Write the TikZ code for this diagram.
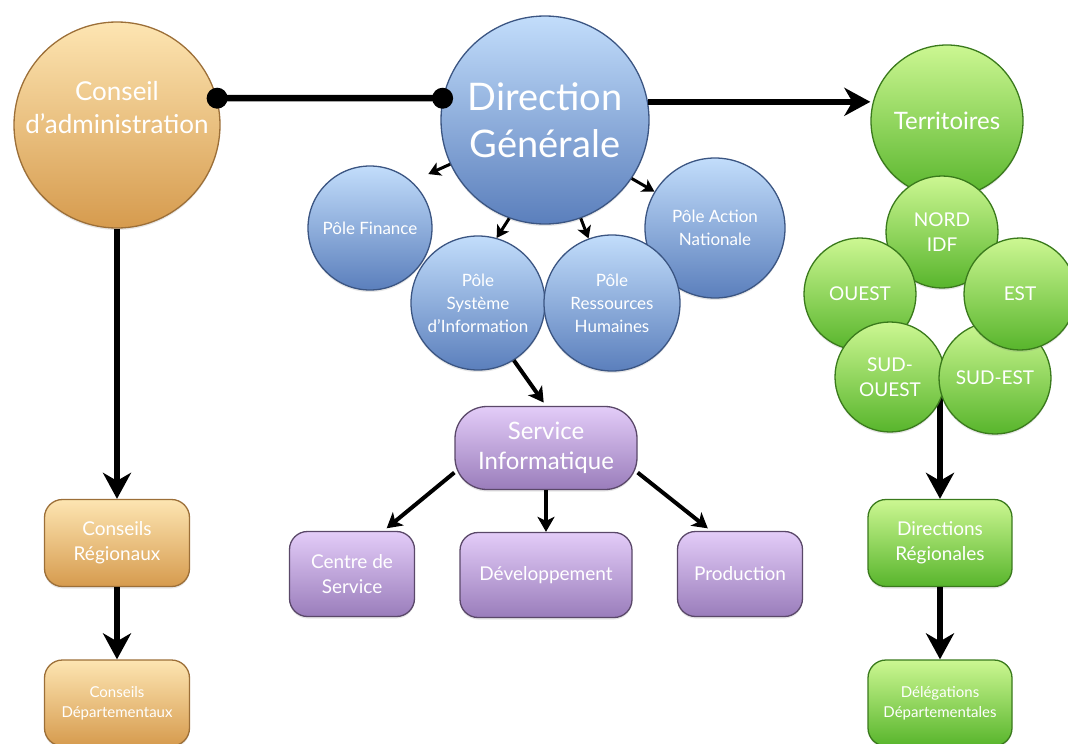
\documentclass[tikz,border=0pt]{standalone}
\usepackage{fontspec}
\setmainfont{Lato}
\usetikzlibrary{arrows.meta,shadows,backgrounds,calc}

\definecolor{orgtop}{HTML}{FDE5B2}
\definecolor{orgbot}{HTML}{D69B4E}
\definecolor{orgline}{HTML}{9C6F38}
\definecolor{blutop}{HTML}{C2DDFB}
\definecolor{blubot}{HTML}{5B7FBC}
\definecolor{bluline}{HTML}{3B5582}
\definecolor{grntop}{HTML}{CCF792}
\definecolor{grnbot}{HTML}{58B52C}
\definecolor{grnline}{HTML}{3A7A1C}
\definecolor{purtop}{HTML}{E3CCF8}
\definecolor{purbot}{HTML}{9A7DBB}
\definecolor{purline}{HTML}{5A4869}

\newcommand{\fs}[2]{\fontsize{#1}{#2}\selectfont}

\begin{document}
\begin{tikzpicture}[x=1pt, y=-1pt,
    bubble/.style={circle, draw, line width=1.3pt, text=white, align=center, inner sep=0pt,
      drop shadow={opacity=0.2, shadow xshift=0pt, shadow yshift=-2pt}},
    panel/.style={rectangle, rounded corners=18pt, draw, line width=1.3pt, text=white, align=center, inner sep=0pt,
      drop shadow={opacity=0.2, shadow xshift=0pt, shadow yshift=-2pt}},
    caption/.style={text=white, align=center, inner sep=0pt},
    orange/.style={top color=orgtop, bottom color=orgbot, draw=orgline},
    blue/.style={top color=blutop, bottom color=blubot, draw=bluline},
    green/.style={top color=grntop, bottom color=grnbot, draw=grnline},
    purple/.style={top color=purtop, bottom color=purbot, draw=purline},
    link/.style={line width=6.5pt},
    bigarrow/.style={line width=6pt, -{Stealth[length=26pt, width=28pt, inset=8pt]}},
    midarrow/.style={line width=4pt, -{Stealth[length=15pt, width=17pt, inset=4pt]}},
    smallarrow/.style={line width=3pt, -{Stealth[length=12pt, width=14pt, inset=3pt]}}
  ]
  \useasboundingbox (0,0) rectangle (1068,744);

  % left: council
  \node (conseil) at (117,125) [bubble, orange, minimum size=206pt] {};
  \node (conseiltxt) at ([yshift=17pt]conseil.center) [caption, font=\fs{26}{33}] {Conseil\\d'administration};
  \node (cr) at (117,543) [panel, orange, minimum width=145pt, minimum height=87pt, font=\fs{19}{25}] {Conseils\\Régionaux};
  \node (cd) at (117,703) [panel, orange, minimum width=145pt, minimum height=86pt, font=\fs{15}{20}] {Conseils\\Départementaux};

  % middle: direction and poles
  \node (fin) at (370,228) [bubble, blue, minimum size=124pt, font=\fs{17}{23}] {Pôle Finance};
  \node (pan) at (715,228) [bubble, blue, minimum size=140pt, font=\fs{17}{23}] {Pôle Action\\Nationale};
  \node (psi) at (478,303) [bubble, blue, minimum size=134pt, font=\fs{17}{23}] {Pôle\\Système\\d'Information};
  \node (prh) at (612,303) [bubble, blue, minimum size=136pt, font=\fs{17}{23}] {Pôle\\Ressources\\Humaines};
  \node (dg) at (545,120) [bubble, blue, minimum size=208pt, font=\fs{38}{47}] {Direction\\Générale};

  \node (si) at (546,448) [panel, purple, rounded corners=32pt, minimum width=182pt, minimum height=83pt, font=\fs{24}{30}] {Service\\Informatique};
  \node (cds) at (352,574) [panel, purple, minimum width=125pt, minimum height=85pt, font=\fs{19}{25}] {Centre de\\Service};
  \node (dev) at (546,575) [panel, purple, minimum width=172pt, minimum height=85pt, font=\fs{19}{25}] {Développement};
  \node (prod) at (740,574) [panel, purple, minimum width=125pt, minimum height=85pt, font=\fs{19}{25}] {Production};

  % right: territories
  \node (terr) at (947,121) [bubble, green, minimum size=152pt, font=\fs{24}{30}] {Territoires};
  \node (nord) at (942,232) [bubble, green, minimum size=112pt, font=\fs{19}{25}] {NORD\\IDF};
  \node (ouest) at (860,294) [bubble, green, minimum size=112pt, font=\fs{19}{25}] {OUEST};
  \node (sudouest) at (890,377) [bubble, green, minimum size=110pt, font=\fs{19}{25}] {SUD-\\OUEST};
  \node (sudest) at (995,378) [bubble, green, minimum size=112pt, font=\fs{19}{25}] {SUD-EST};
  \node (est) at (1020,294) [bubble, green, minimum size=112pt, font=\fs{19}{25}] {EST};
  \node (dr) at (940,543) [panel, green, minimum width=144pt, minimum height=87pt, font=\fs{19}{25}] {Directions\\Régionales};
  \node (dd) at (940,703) [panel, green, minimum width=144pt, minimum height=86pt, font=\fs{15}{20}] {Délégations\\Départementales};
  \coordinate (sudjoin) at (940,395);

  % connectors
  \draw [link] (conseil.15) -- (dg.168);
  \fill (conseil.15) circle (10.5pt);
  \fill (dg.168) circle (10.5pt);
  \draw [bigarrow] (dg.10) -- (dg.10 -| terr.west);

  \draw [bigarrow] (conseil) -- (cr);
  \draw [bigarrow] (cr) -- (cd);

  \draw [smallarrow, shorten >=18pt] (dg.205) -- (fin.48);
  \draw [smallarrow] (dg.250) -- (psi.74);
  \draw [smallarrow] (dg.290) -- (prh.110);
  \draw [smallarrow] (dg.326) -- (pan.149);

  \draw [midarrow, shorten >=4pt] (psi.302) -- (si.north);
  \draw [midarrow, shorten >=4pt] (si.195) -- ($(cds.north)!0.5!(cds.north east)$);
  \draw [midarrow] (si) -- (dev);
  \draw [midarrow, shorten >=4pt] (si.-15) -- ($(prod.north west)!0.27!(prod.north east)$);

  \begin{pgfonlayer}{background}
    \draw [bigarrow] (sudjoin) -- (dr);
  \end{pgfonlayer}
  \draw [bigarrow] (dr) -- (dd);
\end{tikzpicture}
\end{document}
